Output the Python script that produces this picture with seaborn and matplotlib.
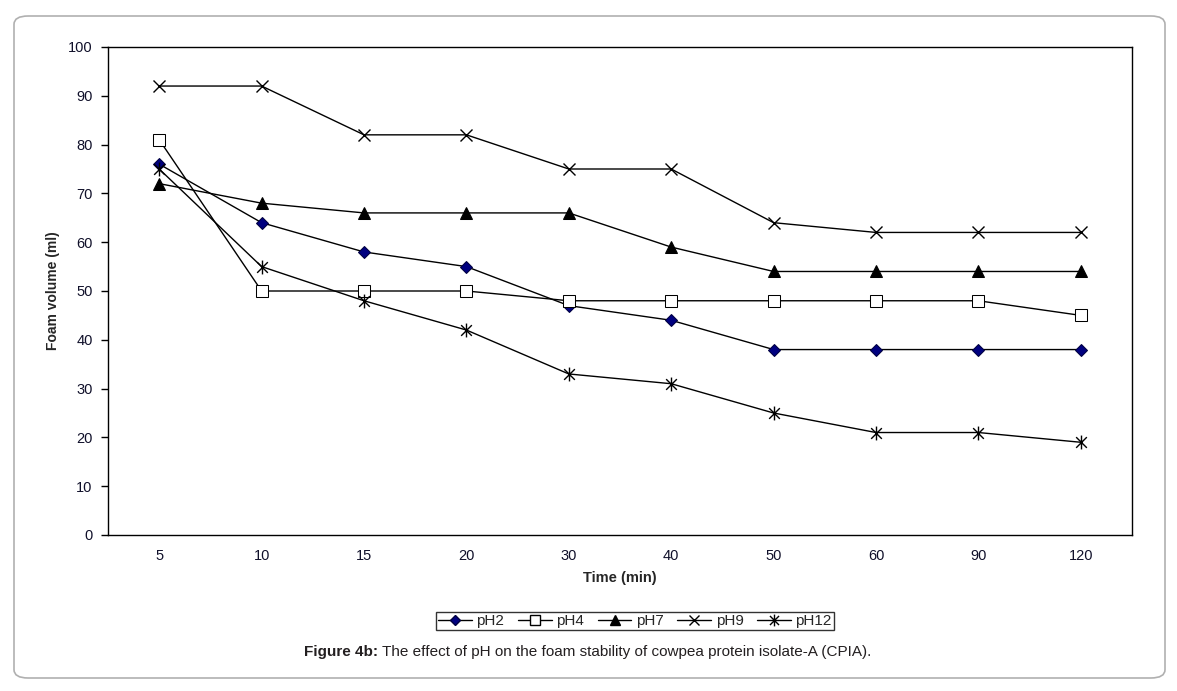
import matplotlib
matplotlib.use("Agg")
import matplotlib.pyplot as plt
import seaborn as sns
import pandas as pd
from matplotlib.patches import FancyBboxPatch
from matplotlib.lines import Line2D
from matplotlib.path import Path

sns.set_theme(style="white")
plt.rcParams["font.family"] = ["Liberation Sans", "DejaVu Sans"]

# data
time_labels = ["5", "10", "15", "20", "30", "40", "50", "60", "90", "120"]
ph2 = [76, 64, 58, 55, 47, 44, 38, 38, 38, 38]
ph4 = [81, 50, 50, 50, 48, 48, 48, 48, 48, 45]
ph7 = [72, 68, 66, 66, 66, 59, 54, 54, 54, 54]
ph9 = [92, 92, 82, 82, 75, 75, 64, 62, 62, 62]
ph12 = [75, 55, 48, 42, 33, 31, 25, 21, 21, 19]
series_names = ["pH2", "pH4", "pH7", "pH9", "pH12"]

# excel-style asterisk: an x with a vertical bar through it
ASTERISK = Path([(-1, -1), (1, 1), (-1, 1), (1, -1), (0, -1.3), (0, 1.3)],
                [Path.MOVETO, Path.LINETO, Path.MOVETO, Path.LINETO, Path.MOVETO, Path.LINETO])

STYLES = {
    "pH2":  dict(marker="D", markersize=6.5, markerfacecolor="#000080", markeredgecolor="#000040"),
    "pH4":  dict(marker="s", markersize=8.5, markerfacecolor="white", markeredgecolor="black"),
    "pH7":  dict(marker="^", markersize=9, markerfacecolor="black", markeredgecolor="black"),
    "pH9":  dict(marker="x", markersize=9, markeredgecolor="black", markeredgewidth=1.0),
    "pH12": dict(marker=ASTERISK, markersize=10, markerfacecolor="none",
                 markeredgecolor="black", markeredgewidth=1.0),
}

df = pd.DataFrame({
    "pos": list(range(len(time_labels))) * len(series_names),
    "series": [s for s in series_names for _ in time_labels],
    "volume": ph2 + ph4 + ph7 + ph9 + ph12,
})

fig = plt.figure(figsize=(11.77, 6.91), dpi=100)
fig.patch.set_facecolor("white")

# rounded outer frame
frame = FancyBboxPatch((14 / 1177, 1 - 678 / 691), (1165 - 14) / 1177, (678 - 16) / 691,
                       boxstyle="round,pad=0,rounding_size=0.012",
                       transform=fig.transFigure, facecolor="none",
                       edgecolor="#b0b0b0", linewidth=1.2)
fig.patches.append(frame)

ax = fig.add_axes([108 / 1177, 1 - 535 / 691, (1132 - 108) / 1177, (535 - 47) / 691])

for name in series_names:
    sub = df[df["series"] == name]
    sns.lineplot(x=sub["pos"], y=sub["volume"], ax=ax, color="black",
                 linewidth=1.0, legend=False, **STYLES[name])

ax.set_xlim(-0.5, len(time_labels) - 0.5)
ax.set_ylim(0, 100)
ax.set_yticks(range(0, 101, 10))
ax.set_xticks(range(len(time_labels)))
ax.set_xticklabels(time_labels)
ax.set_xticks([i - 0.5 for i in range(len(time_labels) + 1)], minor=True)
ax.tick_params(axis="x", which="major", length=0, pad=10, labelsize=10.5, labelcolor="#10102a")
ax.tick_params(axis="x", which="minor", length=5, width=1, color="black", direction="out")
ax.tick_params(axis="y", length=5, width=1, color="black", direction="out",
               labelsize=10.5, labelcolor="#10102a", pad=6, left=True)
for sp in ax.spines.values():
    sp.set_color("black")
    sp.set_linewidth(1.0)
ax.grid(False)

ax.set_xlabel("Time (min)", fontsize=10.5, fontweight="bold", labelpad=6)
ax.set_ylabel("Foam volume (ml)", fontsize=10, fontweight="bold", labelpad=6)

handles = [Line2D([0], [0], color="black", linewidth=1.0, **STYLES[n]) for n in series_names]
leg = fig.legend(handles, series_names, loc="center", ncol=5,
                 bbox_to_anchor=(635 / 1177, 1 - 621 / 691), fontsize=11,
                 frameon=True, fancybox=False, handlelength=2.2, handletextpad=0.3,
                 columnspacing=0.9, borderpad=0.15, markerscale=0.85)
leg.get_frame().set_edgecolor("black")
leg.get_frame().set_linewidth(1.0)

cap_y = 1 - 652 / 691
bold = fig.text(304 / 1177, cap_y, "Figure 4b:", ha="left", va="center",
                fontsize=11, fontweight="bold", color="#231f20")
fig.canvas.draw()
bb = bold.get_window_extent()
fig.text((bb.x1 + 4) / 1177, cap_y,
         "The effect of pH on the foam stability of cowpea protein isolate-A (CPIA).",
         ha="left", va="center", fontsize=11, color="#231f20")

fig.savefig("out.png", dpi=100)
